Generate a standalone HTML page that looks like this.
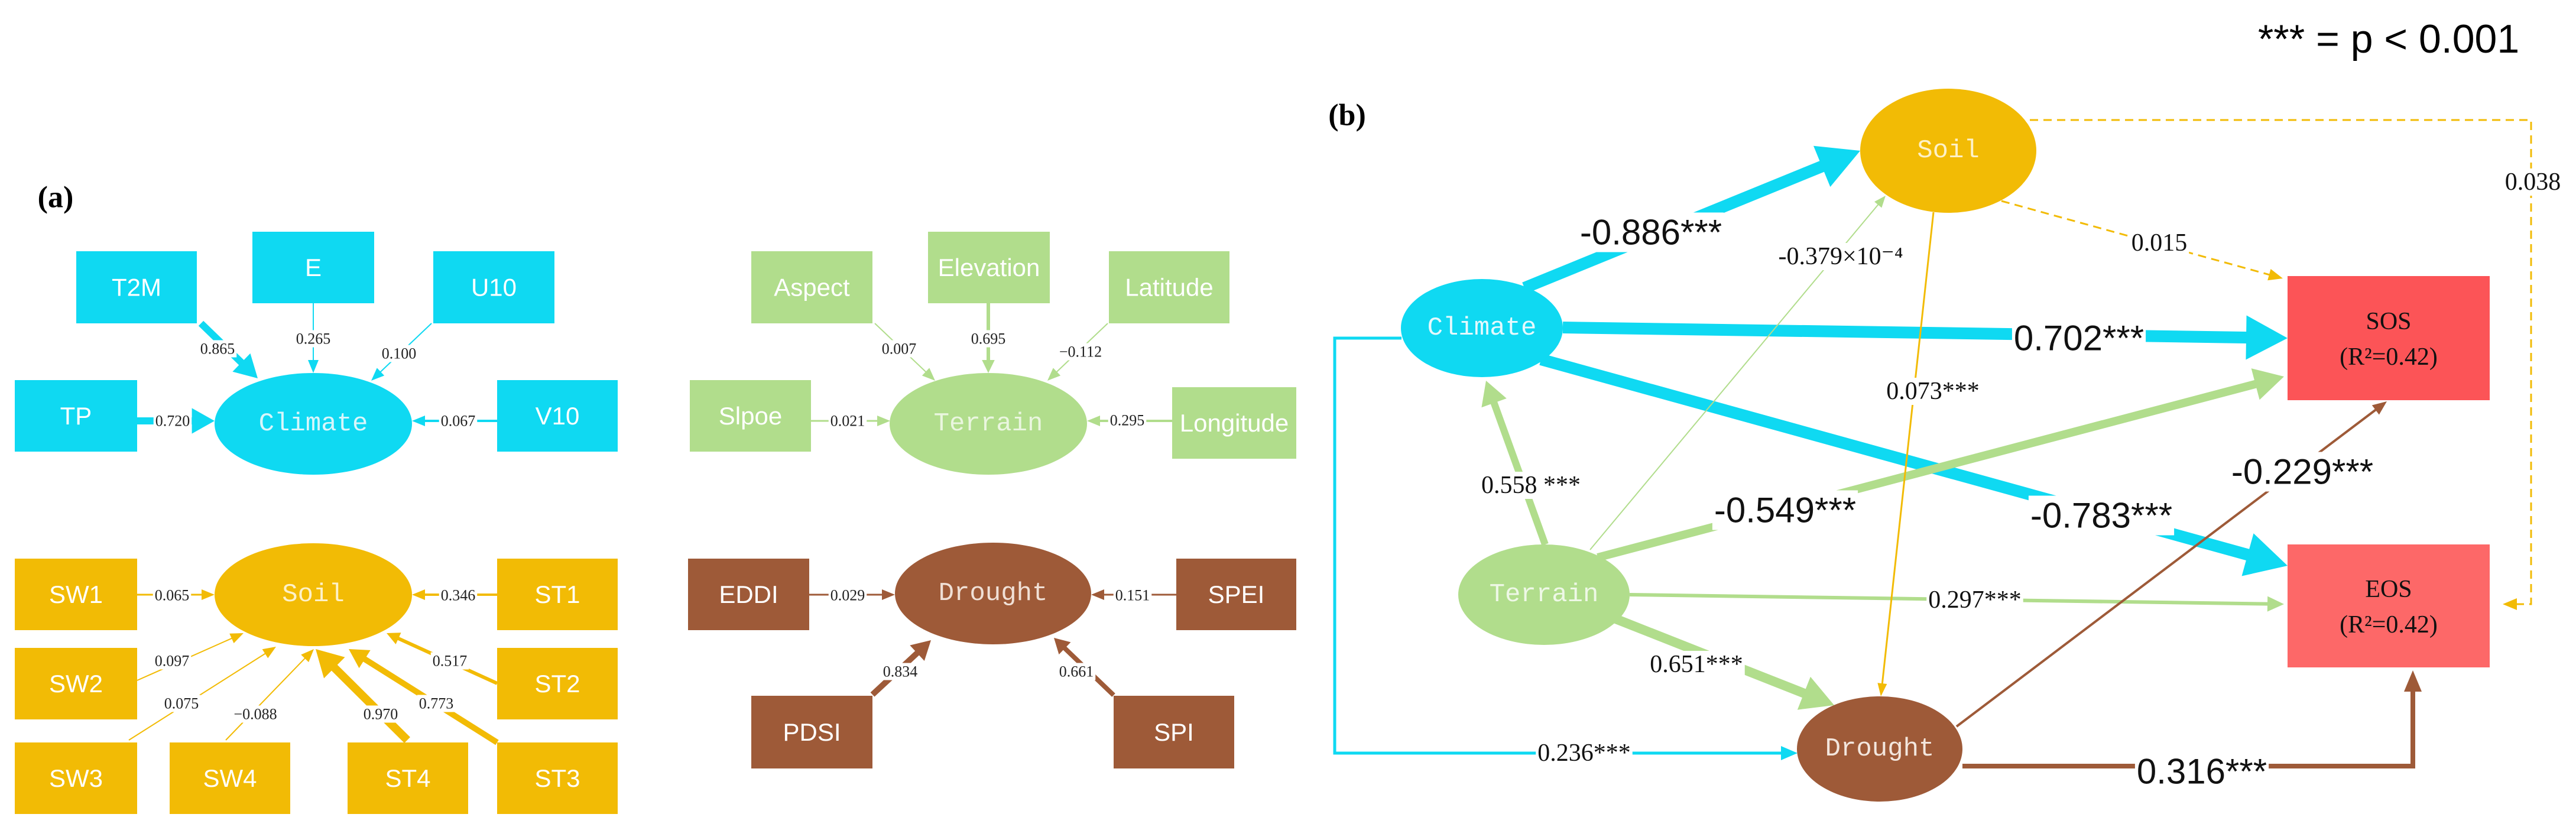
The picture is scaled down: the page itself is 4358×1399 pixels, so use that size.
<!DOCTYPE html>
<html><head><meta charset="utf-8"><style>
html,body{margin:0;padding:0;background:#fff;}
svg{display:block;}
.bx{font-family:"Liberation Sans Narrow","Liberation Sans",sans-serif;font-size:42px;fill:#fff;text-anchor:middle;dominant-baseline:central;}
.el{font-family:"Liberation Mono",monospace;font-size:44px;text-anchor:middle;dominant-baseline:central;}
.sl{font-family:"Liberation Serif",serif;font-size:26px;fill:#222;text-anchor:middle;dominant-baseline:central;}
.ml{font-family:"Liberation Serif",serif;font-size:42px;fill:#111;text-anchor:middle;dominant-baseline:central;}
.bl{font-family:"Liberation Sans Narrow","Liberation Sans",sans-serif;font-size:60px;fill:#111;text-anchor:middle;dominant-baseline:central;}
</style></head><body>
<svg id="s" xmlns="http://www.w3.org/2000/svg" width="4358" height="1399" viewBox="0 0 4358 1399">
<rect width="4358" height="1399" fill="#fff"/>
<g id="edges"></g>
<g id="nodes"></g>
<g id="labels"></g>
<text x="94" y="334" font-family="Liberation Serif" font-weight="bold" font-size="52" text-anchor="middle" dominant-baseline="central">(a)</text>
<text x="2279" y="195" font-family="Liberation Serif" font-weight="bold" font-size="52" text-anchor="middle" dominant-baseline="central">(b)</text>
<text x="4041" y="66" font-family="Liberation Sans" font-size="68" text-anchor="middle" dominant-baseline="central">*** = p &lt; 0.001</text>
</svg>
<script>
var NS="http://www.w3.org/2000/svg";
function el(g,t,a,txt){var e=document.createElementNS(NS,t);for(var k in a)e.setAttribute(k,a[k]);if(txt!==undefined)e.textContent=txt;document.getElementById(g).appendChild(e);return e;}
function arrow(pts,w,col,hl,hw,dash){
  if(hl===undefined)hl=Math.max(22,w*3.2);
  if(hw===undefined)hw=Math.max(18,w*3.6);
  var n=pts.length,x2=pts[n-1][0],y2=pts[n-1][1],x1=pts[n-2][0],y1=pts[n-2][1];
  var dx=x2-x1,dy=y2-y1,L=Math.sqrt(dx*dx+dy*dy),ux=dx/L,uy=dy/L;
  var bx=x2-ux*hl*0.9,by=y2-uy*hl*0.9;
  var p=pts.slice(0,n-1).map(function(q){return q.join(",")}).join(" ")+" "+bx+","+by;
  var a={points:p,fill:"none",stroke:col,"stroke-width":w,"stroke-linejoin":"miter"};
  if(dash)a["stroke-dasharray"]=dash;
  el("edges","polyline",a);
  var hx=x2-ux*hl,hy=y2-uy*hl;
  el("edges","polygon",{points:x2+","+y2+" "+(hx-uy*hw/2)+","+(hy+ux*hw/2)+" "+(hx+uy*hw/2)+","+(hy-ux*hw/2),fill:col});
}
function lab(x,y,t,cls,pad){
  var e=el("labels","text",{x:x,y:y,"class":cls},t);
  var b=e.getBBox();pad=pad||3;
  var r=document.createElementNS(NS,"rect");
  r.setAttribute("x",b.x-pad);r.setAttribute("y",b.y);r.setAttribute("width",b.width+2*pad);r.setAttribute("height",b.height);r.setAttribute("fill","#fff");
  e.parentNode.insertBefore(r,e);
  return e;
}
function box(x1,y1,x2,y2,col,t){el("nodes","rect",{x:x1,y:y1,width:x2-x1,height:y2-y1,fill:col});el("nodes","text",{x:(x1+x2)/2,y:(y1+y2)/2,"class":"bx"},t);}
function ell(cx,cy,rx,ry,col,t,tc,fs){el("nodes","ellipse",{cx:cx,cy:cy,rx:rx,ry:ry,fill:col});var e=el("nodes","text",{x:cx,y:cy,"class":"el",fill:tc},t);if(fs)e.setAttribute("font-size",fs);}
var C="#0fd9f2",G="#b1dd8c",S="#f2bb05",D="#9e5a38";
// ---------- panel a ----------
box(129,425,333,547,C,"T2M");box(427,392,633,513,C,"E");box(733,425,938,547,C,"U10");
box(25,643,232,764,C,"TP");box(841,643,1045,764,C,"V10");
ell(530,717,167,86,C,"Climate","#d8f6fb");
arrow([[340,547],[436,640]],12,C);arrow([[530,513],[530,631]],2,C);arrow([[730,547],[628,644]],2,C);
arrow([[232,712],[363,712]],12,C);arrow([[841,712],[697,712]],4,C);
lab(368,590,"0.865","sl");lab(530,573,"0.265","sl");lab(675,598,"0.100","sl");lab(292,712,"0.720","sl");lab(775,712,"0.067","sl");
box(1271,425,1476,547,G,"Aspect");box(1570,392,1776,513,G,"Elevation");box(1876,425,2080,547,G,"Latitude");
box(1167,643,1372,764,G,"Slpoe");box(1983,655,2193,776,G,"Longitude");
ell(1672,717,167,86,G,"Terrain","#eaf6df");
arrow([[1480,547],[1582,644]],2,G);arrow([[1672,513],[1672,631]],6,G);arrow([[1874,547],[1772,644]],2,G);
arrow([[1372,712],[1506,712]],3,G);arrow([[1983,712],[1839,712]],4,G);
lab(1521,590,"0.007","sl");lab(1672,573,"0.695","sl");lab(1828,595,"\u22120.112","sl");lab(1434,712,"0.021","sl");lab(1907,711,"0.295","sl");
box(25,945,232,1066,S,"SW1");box(841,945,1045,1066,S,"ST1");box(25,1096,232,1217,S,"SW2");box(841,1096,1045,1217,S,"ST2");
box(25,1256,232,1377,S,"SW3");box(287,1256,491,1377,S,"SW4");box(588,1256,792,1377,S,"ST4");box(841,1256,1045,1377,S,"ST3");
ell(530,1006,167,87,S,"Soil","#fdf1c8");
arrow([[232,1006],[363,1006]],3,S);arrow([[841,1006],[697,1006]],4,S);
arrow([[232,1151],[412,1071]],2,S);arrow([[841,1156],[654,1071]],6,S);
arrow([[218,1252],[467,1094]],2,S);arrow([[382,1252],[531,1098]],2,S);
arrow([[689,1252],[534,1098]],14,S);arrow([[841,1256],[590,1098]],10,S);
lab(291,1007,"0.065","sl");lab(775,1007,"0.346","sl");lab(291,1118,"0.097","sl");lab(761,1118,"0.517","sl");
lab(307,1190,"0.075","sl");lab(432,1208,"\u22120.088","sl");lab(644,1208,"0.970","sl");lab(738,1190,"0.773","sl");
box(1164,945,1369,1066,D,"EDDI");box(1990,945,2193,1066,D,"SPEI");box(1271,1177,1476,1300,D,"PDSI");box(1884,1177,2088,1300,D,"SPI");
ell(1680,1004,166,86,D,"Drought","#f0e0d6");
arrow([[1369,1006],[1514,1006]],3,D);arrow([[1990,1006],[1846,1006]],3,D);
arrow([[1476,1175],[1575,1083]],10,D);arrow([[1884,1176],[1783,1079]],8,D);
lab(1434,1007,"0.029","sl");lab(1916,1007,"0.151","sl");lab(1523,1136,"0.834","sl");lab(1821,1136,"0.661","sl");
// ---------- panel b ----------
arrow([[3434,203],[4282,203],[4282,1022],[4234,1022]],3,S,24,20,"14,9");
arrow([[3386,340],[3862,471]],3,S,24,20,"14,9");
arrow([[2371,572],[2258,572],[2258,1274],[3041,1274]],5,C,28,24);
arrow([[2579,487],[3147,255]],20,C,70,75);
arrow([[2644,554],[3870,572]],20,C,70,75);
arrow([[2607,608],[3870,957]],20,C,70,75);
arrow([[2614,921],[2514,644]],12,G,40,45);
arrow([[2690,930],[3190,331]],2,G,20,16);
arrow([[2703,943],[3864,637]],14,G,50,55);
arrow([[2757,1006],[3864,1022]],6,G,28,26);
arrow([[2731,1046],[3103,1193]],16,G,55,60);
arrow([[3271,359],[3182,1178]],3,S,22,16);
arrow([[3310,1229],[4038,679]],4,D,24,20);
arrow([[3320,1296],[4082,1296],[4082,1134]],8,D,36,30);
ell(3296,255,149,105,S,"Soil","#fdf1c8",48);
ell(2507,555,137,83,C,"Climate","#e4f9fd",44);
ell(2612,1006,145,85,G,"Terrain","#eef8e6",48);
ell(3180,1267,140,89,D,"Drought","#f3e6dd",42);
el("nodes","rect",{x:3870,y:467,width:342,height:210,fill:"#fc5457"});
el("nodes","rect",{x:3870,y:921,width:342,height:208,fill:"#fd6868"});
[[572,"SOS"],[1025,"EOS"]].forEach(function(a){
  el("nodes","text",{x:4041,y:a[0]-28,"class":"ml",fill:"#fff","font-size":48},a[1]);
  el("nodes","text",{x:4041,y:a[0]+32,"class":"ml",fill:"#fff","font-size":46},"(R\u00b2=0.42)");
});
lab(2793,393,"-0.886***","bl");lab(3517,572,"0.702***","bl");lab(3555,872,"-0.783***","bl");
lab(3020,863,"-0.549***","bl");lab(3895,798,"-0.229***","bl");lab(3725,1305,"0.316***","bl");
lab(2680,1274,"0.236***","ml");lab(2590,821,"0.558 ***","ml");lab(3114,434,"-0.379\u00d710\u207b\u2074","ml");
lab(3341,1015,"0.297***","ml");lab(2870,1124,"0.651***","ml");lab(3270,662,"0.073***","ml");
lab(3653,411,"0.015","ml");lab(4285,308,"0.038","ml");
</script>
</body></html>
